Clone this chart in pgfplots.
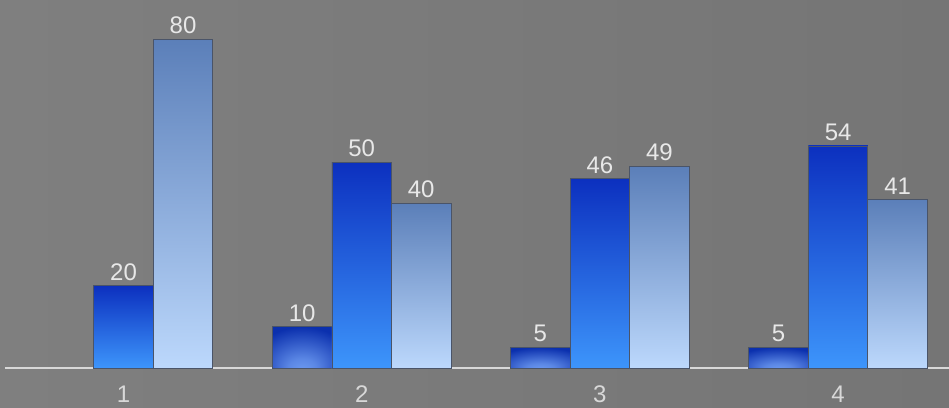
\documentclass[border=0pt]{standalone}
\usepackage{pgfplots}
\pgfplotsset{compat=1.18}
\usepackage{fontspec}
\setmainfont{Liberation Sans}
\definecolor{bgA}{HTML}{7F7F7F}
\definecolor{bgB}{HTML}{757575}
\definecolor{lbl}{HTML}{E8E8E8}
\definecolor{tck}{HTML}{D8D8D8}
\definecolor{edge}{HTML}{4A5468}
\definecolor{aOut}{HTML}{0B30AE}
\definecolor{aIn}{HTML}{6E9CF2}
\definecolor{bTop}{HTML}{0C30BF}
\definecolor{bBot}{HTML}{3D95FB}
\definecolor{cTop}{HTML}{5B7FB9}
\definecolor{cBot}{HTML}{BCD8FC}
\pgfdeclareradialshading{barA}{\pgfpoint{0bp}{-30bp}}{color(0bp)=(aIn); color(12bp)=(aIn!80!aOut); color(40bp)=(aOut); color(80bp)=(aOut)}
\pgfplotsset{
  serA/.style={ybar, bar width=59.5pt, bar shift=-59.5pt, draw=edge, line width=0.8pt, shading=barA,
    every node near coord/.append style={xshift=-59.5pt}},
  serB/.style={ybar, bar width=59.5pt, bar shift=0pt, draw=edge, line width=0.8pt, top color=bTop, bottom color=bBot},
  serC/.style={ybar, bar width=59.5pt, bar shift=59.5pt, draw=edge, line width=0.8pt, top color=cTop, bottom color=cBot,
    every node near coord/.append style={xshift=59.5pt}},
}
\begin{document}
\begin{tikzpicture}[x=1pt,y=1pt]
\shade[left color=bgA, right color=bgB] (0,0) rectangle (949,407);
\begin{axis}[
  at={(5pt,39pt)}, anchor=south west,
  scale only axis, width=944pt, height=368pt,
  xmin=0.5025, xmax=4.4656, ymin=0, ymax=89.5,
  axis x line=bottom, axis y line=none,
  x axis line style={-, draw=tck, line width=1.6pt},
  xtick={1,2,3,4}, major tick length=0pt,
  /pgf/number format/assume math mode=true,
  xticklabel style={anchor=north, inner sep=0pt, yshift=-18pt, text=tck, font=\fontsize{24}{24}\selectfont},
  nodes near coords,
  every node near coord/.append style={anchor=south, inner sep=0pt, yshift=5pt, text=lbl, font=\fontsize{24}{24}\selectfont},
  clip=false,
]
% series A
\addplot[serA] coordinates {(2,10)};
\addplot[serA] coordinates {(3,5)};
\addplot[serA] coordinates {(4,5)};
% series B
\addplot[serB] coordinates {(1,20)};
\addplot[serB] coordinates {(2,50)};
\addplot[serB] coordinates {(3,46)};
\addplot[serB] coordinates {(4,54)};
% series C
\addplot[serC] coordinates {(1,80)};
\addplot[serC] coordinates {(2,40)};
\addplot[serC] coordinates {(3,49)};
\addplot[serC] coordinates {(4,41)};
\end{axis}
\pgfresetboundingbox
\path[use as bounding box] (0,0) rectangle (949,407);
\end{tikzpicture}
\end{document}
